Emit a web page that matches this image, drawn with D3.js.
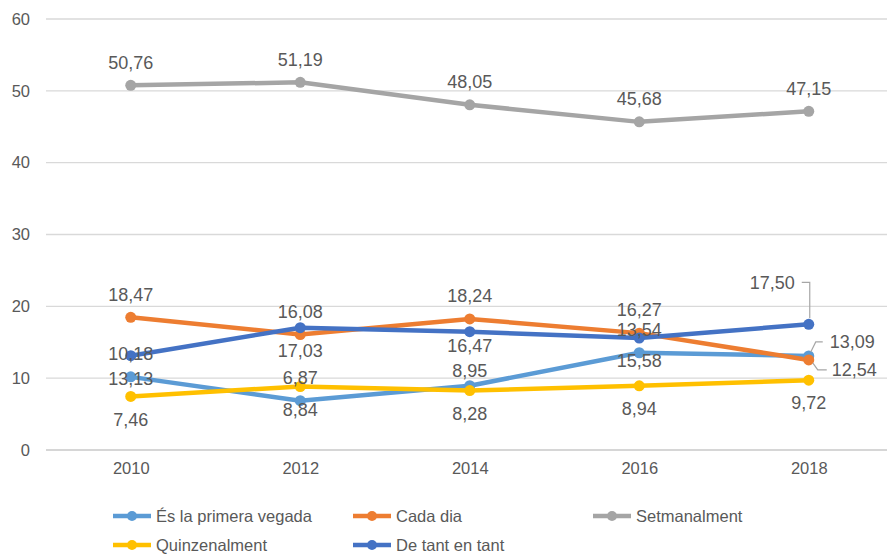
<!DOCTYPE html>
<html>
<head>
<meta charset="utf-8">
<script src="https://cdn.jsdelivr.net/npm/d3@7/dist/d3.min.js"></script>
<style>
  html, body { margin: 0; padding: 0; background: #fff; }
  svg { display: block; font-family: "Liberation Sans", Arial, sans-serif; }
</style>
</head>
<body>
<svg id="chart" width="887" height="559"></svg>
<script>
// ---- data ----
const years = ["2010", "2012", "2014", "2016", "2018"];
const yTicks = [0, 10, 20, 30, 40, 50, 60];

const seriesNames = ["És la primera vegada", "Cada dia", "Setmanalment", "Quinzenalment", "De tant en tant"];
const primeraVegada = [10.18, 6.87, 8.95, 13.54, 13.09];
const cadaDia = [18.47, 16.08, 18.24, 16.27, 12.54];
const setmanalment = [50.76, 51.19, 48.05, 45.68, 47.15];
const quinzenalment = [7.46, 8.84, 8.28, 8.94, 9.72];
const deTantEnTant = [13.13, 17.03, 16.47, 15.58, 17.50];

// label placement per point: "a" above, "b" below, "an"/"bn" near above/below, or a leader style
const primeraPos = ["a", "a", "an", "a", "leaderRightUp"];
const cadaPos = ["a", "a", "a", "a", "leaderRightDown"];
const setmanalPos = ["a", "a", "a", "a", "a"];
const quinzenalPos = ["b", "b", "b", "b", "b"];
const tantPos = ["b", "b", "bn", "b", "leaderUpLeft"];

const colors = ["#5B9BD5", "#ED7D31", "#A5A5A5", "#FFC000", "#4472C4"];

const series = [
  { name: seriesNames[0], values: primeraVegada, pos: primeraPos, color: colors[0] },
  { name: seriesNames[1], values: cadaDia, pos: cadaPos, color: colors[1] },
  { name: seriesNames[2], values: setmanalment, pos: setmanalPos, color: colors[2] },
  { name: seriesNames[3], values: quinzenalment, pos: quinzenalPos, color: colors[3] },
  { name: seriesNames[4], values: deTantEnTant, pos: tantPos, color: colors[4] }
];

// ---- layout ----
const svg = d3.select("#chart");
const plotLeft = 46, plotRight = 893.5, plotTop = 19, plotBottom = 450;

const x = d3.scalePoint().domain(years).range([plotLeft, plotRight]).padding(0.5);
const y = d3.scaleLinear().domain([0, 60]).range([plotBottom, plotTop]);

const textColor = "#595959";
const fmt = v => v.toFixed(2).replace(".", ",");

// gridlines
svg.append("g").selectAll("line").data(yTicks).join("line")
  .attr("x1", plotLeft).attr("x2", 887)
  .attr("y1", d => y(d)).attr("y2", d => y(d))
  .attr("stroke", d => d === 0 ? "#c8c8c8" : "#d9d9d9").attr("stroke-width", 1.3);

// y axis labels
const yAxis = d3.axisLeft(y).tickValues(yTicks).tickSize(0).tickPadding(16);
const gy = svg.append("g").attr("transform", `translate(${plotLeft},0)`).call(yAxis);
gy.select(".domain").remove();
gy.selectAll("text").attr("fill", textColor).style("font-size", "16.5px")
  .style("font-family", "'Liberation Sans', Arial, sans-serif");

// x axis labels
const xAxis = d3.axisBottom(x).tickSize(0).tickPadding(12);
const gx = svg.append("g").attr("transform", `translate(0,${plotBottom})`).call(xAxis);
gx.select(".domain").remove();
gx.selectAll("text").attr("fill", textColor).style("font-size", "16.5px")
  .style("font-family", "'Liberation Sans', Arial, sans-serif");

// lines
const line = d3.line().x((d, i) => x(years[i])).y(d => y(d));
const lg = svg.append("g");
series.forEach(s => {
  lg.append("path").datum(s.values).attr("d", line)
    .attr("fill", "none").attr("stroke", s.color).attr("stroke-width", 4.5)
    .attr("stroke-linejoin", "round").attr("stroke-linecap", "round");
});
series.forEach(s => {
  lg.append("g").selectAll("circle").data(s.values).join("circle")
    .attr("cx", (d, i) => x(years[i])).attr("cy", d => y(d)).attr("r", 5.5)
    .attr("fill", s.color);
});

// data labels
const labG = svg.append("g").style("font-size", "18px").attr("fill", textColor);
const leaderColor = "#a6a6a6";
const simpleOffsets = { a: -23, b: 23, an: -15, bn: 14 };
series.forEach(s => {
  s.values.forEach((v, i) => {
    const px = x(years[i]), py = y(v);
    const p = s.pos[i];
    if (p in simpleOffsets) {
      labG.append("text").attr("x", px).attr("y", py + simpleOffsets[p])
        .attr("dy", "0.35em").attr("text-anchor", "middle").text(fmt(v));
    } else if (p === "leaderUpLeft") {
      labG.append("path")
        .attr("d", `M${px - 7},${py - 42} H${px + 1} V${py - 6}`)
        .attr("fill", "none").attr("stroke", leaderColor).attr("stroke-width", 1.2);
      labG.append("text").attr("x", px - 14).attr("y", py - 42).attr("dy", "0.35em")
        .attr("text-anchor", "end").text(fmt(v));
    } else if (p === "leaderRightUp") {
      labG.append("path")
        .attr("d", `M${px + 2},${py - 4} L${px + 7},${py - 14} H${px + 14}`)
        .attr("fill", "none").attr("stroke", leaderColor).attr("stroke-width", 1.2);
      labG.append("text").attr("x", px + 21).attr("y", py - 14).attr("dy", "0.35em")
        .attr("text-anchor", "start").text(fmt(v));
    } else if (p === "leaderRightDown") {
      labG.append("path")
        .attr("d", `M${px + 4},${py + 3} L${px + 9},${py + 10} H${px + 18}`)
        .attr("fill", "none").attr("stroke", leaderColor).attr("stroke-width", 1.2);
      labG.append("text").attr("x", px + 23).attr("y", py + 10).attr("dy", "0.35em")
        .attr("text-anchor", "start").text(fmt(v));
    }
  });
});

// legend
const legCols = [113, 353, 593];
const legRows = [516, 545];
const leg = svg.append("g");
series.forEach((s, i) => {
  const lx = legCols[i % 3], ly = legRows[Math.floor(i / 3)];
  const g = leg.append("g").attr("transform", `translate(${lx},${ly})`);
  g.append("line").attr("x1", 0).attr("x2", 38).attr("y1", 0).attr("y2", 0)
    .attr("stroke", s.color).attr("stroke-width", 4.5);
  g.append("circle").attr("cx", 19).attr("cy", 0).attr("r", 5).attr("fill", s.color);
  g.append("text").attr("x", 43).attr("y", 0).attr("dy", "0.35em")
    .attr("fill", textColor).style("font-size", "16.5px").text(s.name);
});
</script>
</body>
</html>
